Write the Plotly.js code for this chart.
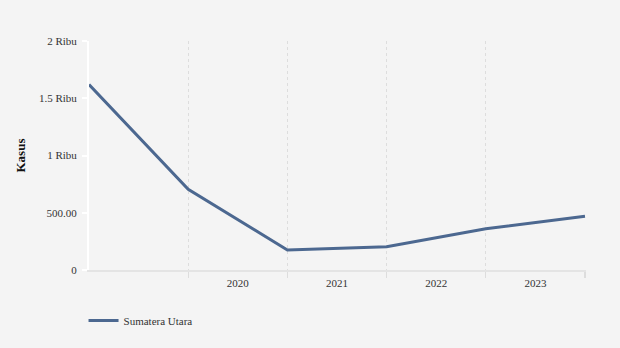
<!DOCTYPE html>
<html>
<head>
<meta charset="utf-8">
<script src="https://cdn.plot.ly/plotly-3.0.1.min.js"></script>
<style>html,body{margin:0;padding:0;background:#f4f4f4;}#chart{width:620px;height:348px;}</style>
</head>
<body>
<div id="chart"></div>
<script>
const seriesName = "Sumatera Utara";
const kasus = [1620, 705, 175, 204, 361, 469];
const yearLabels = ["2020", "2021", "2022", "2023"];
const yTickVals = [0, 500, 1000, 1500, 2000];
const yTickText = ["0", "500.00", "1 Ribu", "1.5 Ribu", "2 Ribu"];

const xs = kasus.map((_, i) => i);
const gridVals = xs.slice(1);
const yearPos = yearLabels.map((_, i) => i + 1.5);

const font = {family: "Liberation Serif, Times New Roman, serif", size: 11, color: "#333"};

Plotly.newPlot("chart", [{
  x: xs, y: kasus, type: "scatter", mode: "lines", name: seriesName,
  line: {color: "#4c6890", width: 3}, showlegend: true
}], {
  width: 620, height: 348,
  paper_bgcolor: "#f4f4f4", plot_bgcolor: "#f4f4f4",
  margin: {l: 89, r: 34, t: 41, b: 78},
  font: font,
  showlegend: true,
  legend: {orientation: "h", x: -0.011, xanchor: "left", y: -0.157, yanchor: "top", font: font, bgcolor: "rgba(0,0,0,0)"},
  xaxis: {
    type: "linear", range: [0, 5.01], fixedrange: true,
    tickvals: yearPos, ticktext: yearLabels, ticks: "", showgrid: false,
    showline: true, linecolor: "#e4e4e4", linewidth: 2, zeroline: false,
    tickfont: font, ticklabelstandoff: 2,
    minor: {tickvals: gridVals, showgrid: true, gridcolor: "#dddddd", griddash: "3px,3px", gridwidth: 1.2,
            ticks: "outside", ticklen: 6, tickcolor: "#dddddd", tickwidth: 1.2}
  },
  yaxis: {
    range: [0, 2000], fixedrange: true,
    tickvals: yTickVals, ticktext: yTickText,
    showgrid: false, zeroline: false,
    showline: true, linecolor: "#ffffff", linewidth: 2,
    ticks: "outside", ticklen: 5, tickcolor: "#ffffff", tickwidth: 2,
    tickfont: font, ticklabelstandoff: 3,
    title: {text: "<b>Kasus</b>", font: {family: font.family, size: 13, color: "#111"}, standoff: 10}
  }
}, {displayModeBar: false, staticPlot: true});
</script>
</body>
</html>
